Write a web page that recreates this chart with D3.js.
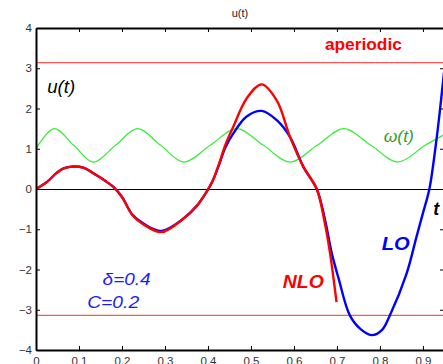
<!DOCTYPE html>
<html>
<head>
<meta charset="utf-8">
<script src="https://cdn.jsdelivr.net/npm/d3@7"></script>
<style>
  body { margin: 0; background: #fff; }
  text { font-family: "Liberation Sans", Arial, sans-serif; }
</style>
</head>
<body>
<div id="chart"></div>
<script>

// tick labels
var xTicks = [0, 0.1, 0.2, 0.3, 0.4, 0.5, 0.6, 0.7, 0.8, 0.9];
var xTickLabels = ["0", "0.1", "0.2", "0.3", "0.4", "0.5", "0.6", "0.7", "0.8", "0.9"];
var yTicks = [-4, -3, -2, -1, 0, 1, 2, 3, 4];

// aperiodic limit (+/- pi)
var aperiodicLevels = [3.1416, -3.1416];

// omega(t), green
var omegaT = [0, 0.042, 0.088, 0.133, 0.185, 0.236, 0.290, 0.344, 0.405, 0.467, 0.529, 0.591, 0.654, 0.716, 0.779, 0.842, 0.905, 0.949];
var omegaV = [1.0, 1.50, 1.085, 0.67, 1.085, 1.50, 1.085, 0.67, 1.085, 1.50, 1.085, 0.67, 1.085, 1.50, 1.085, 0.67, 1.085, 1.35];

// LO solution, blue
var loT = [0, 0.025, 0.048, 0.064, 0.087, 0.11, 0.141, 0.16, 0.18, 0.20, 0.225, 0.25, 0.292, 0.343, 0.374, 0.395, 0.41, 0.425, 0.44, 0.459, 0.49, 0.525, 0.56, 0.591, 0.622, 0.653, 0.672, 0.688, 0.703, 0.73, 0.755, 0.782, 0.805, 0.823, 0.862, 0.885, 0.90, 0.915, 0.93, 0.94, 0.949];
var loV = [0, 0.17, 0.40, 0.51, 0.56, 0.53, 0.34, 0.21, 0.05, -0.2, -0.65, -0.86, -1.04, -0.735, -0.42, -0.1, 0.18, 0.58, 1.02, 1.38, 1.80, 1.94, 1.71, 1.29, 0.55, 0, -0.75, -1.6, -2.19, -3.14, -3.48, -3.63, -3.50, -3.14, -2.10, -1.19, -0.6, 0, 1.1, 2.0, 2.9];

// NLO solution, red
var nloT = [0, 0.025, 0.048, 0.064, 0.087, 0.11, 0.141, 0.16, 0.18, 0.20, 0.225, 0.25, 0.292, 0.343, 0.374, 0.395, 0.41, 0.425, 0.44, 0.459, 0.49, 0.525, 0.56, 0.591, 0.622, 0.653, 0.672, 0.684, 0.699];
var nloV = [0, 0.17, 0.40, 0.51, 0.56, 0.53, 0.34, 0.21, 0.05, -0.2, -0.66, -0.88, -1.07, -0.735, -0.42, -0.1, 0.18, 0.6, 1.08, 1.55, 2.25, 2.60, 2.20, 1.29, 0.55, 0, -0.86, -1.6, -2.81];

function zip(ts, vs) {
    return ts.map(function(t, i) { return { t: t, v: vs[i] }; });
}

var margin = { top: 28, right: 0, bottom: 14, left: 36 };
var width = 408,
    height = 322;

var svg = d3.select("#chart").append("svg")
    .attr("width", 443)
    .attr("height", 364)
    .style("display", "block");

var g = svg.append("g")
    .attr("transform", "translate(" + margin.left + "," + margin.top + ")");

// Scales
var x = d3.scaleLinear().domain([0, 0.949]).range([0, width]);
var y = d3.scaleLinear().domain([-4, 4]).range([height, 0]);

// Plot area clip
g.append("clipPath").attr("id", "clip")
    .append("rect").attr("width", width).attr("height", height);

var plot = g.append("g").attr("clip-path", "url(#clip)");

// +/- pi lines
plot.selectAll(".aperiodic")
    .data(aperiodicLevels)
    .enter().append("line")
    .attr("class", "aperiodic")
    .attr("x1", 0).attr("x2", width)
    .attr("y1", function(d) { return y(d); })
    .attr("y2", function(d) { return y(d); })
    .attr("stroke", "#ff5555")
    .attr("stroke-width", 1.3);

// zero line
plot.append("line")
    .attr("x1", 0).attr("x2", width)
    .attr("y1", y(0)).attr("y2", y(0))
    .attr("stroke", "#000")
    .attr("stroke-width", 1)
    .attr("shape-rendering", "crispEdges");

var line = d3.line()
    .curve(d3.curveCatmullRom.alpha(0.5))
    .x(function(d) { return x(d.t); })
    .y(function(d) { return y(d.v); });

plot.append("path")
    .datum(zip(omegaT, omegaV))
    .attr("d", line)
    .attr("fill", "none")
    .attr("stroke", "#33ee33")
    .attr("stroke-width", 1.2);

plot.append("path")
    .datum(zip(loT, loV))
    .attr("d", line)
    .attr("fill", "none")
    .attr("stroke", "#0000ff")
    .attr("stroke-width", 2.4);

plot.append("path")
    .datum(zip(nloT, nloV))
    .attr("d", line)
    .attr("fill", "none")
    .attr("stroke", "#ff0000")
    .attr("stroke-width", 2.4);

// Axes, matlab style: ticks inside on all four sides
var xAxis = d3.axisBottom(x)
    .tickValues(xTicks)
    .tickFormat(function(d, i) { return xTickLabels[i]; })
    .tickSizeInner(-4).tickSizeOuter(0).tickPadding(7);
var xAxisTop = d3.axisTop(x)
    .tickValues(xTicks).tickFormat("")
    .tickSizeInner(-4).tickSizeOuter(0);
var yAxis = d3.axisLeft(y)
    .tickValues(yTicks)
    .tickFormat(d3.format("d"))
    .tickSizeInner(-4).tickSizeOuter(0).tickPadding(4);
var yAxisRight = d3.axisRight(y)
    .tickValues(yTicks).tickFormat("")
    .tickSizeInner(-4).tickSizeOuter(0);

g.append("g").attr("class", "axis")
    .attr("transform", "translate(0," + height + ")")
    .call(xAxis);
g.append("g").attr("class", "axis")
    .call(xAxisTop);
g.append("g").attr("class", "axis")
    .call(yAxis);
g.append("g").attr("class", "axis")
    .attr("transform", "translate(" + width + ",0)")
    .call(yAxisRight);

g.selectAll(".axis .domain").attr("stroke", "#000").attr("stroke-width", 2);
g.selectAll(".axis .tick line").attr("stroke", "#000").attr("stroke-width", 1);
g.selectAll(".axis text")
    .attr("fill", "#333")
    .style("font-size", "11.5px")
    .style("font-family", "'Liberation Sans', Arial, sans-serif");

// Title
svg.append("text")
    .attr("x", margin.left + width / 2)
    .attr("y", 17)
    .attr("text-anchor", "middle")
    .style("font-size", "11px")
    .attr("fill", "#222")
    .text("u(t)");

// Annotations
function label(t, v, str, size, color, weight, style, len) {
    var txt = g.append("text")
        .attr("x", x(t))
        .attr("y", y(v))
        .attr("fill", color)
        .style("font-size", size + "px")
        .style("font-weight", weight)
        .style("font-style", style)
        .text(str);
    if (len) txt.attr("textLength", len).attr("lengthAdjust", "spacingAndGlyphs");
    return txt;
}

label(0.672, 3.45, "aperiodic", 17, "#ff0000", "bold", "normal", 77);
label(0.026, 2.385, "u(t)", 18, "#000", "normal", "italic", 28);
label(0.809, 1.17, "\u03c9(t)", 16, "#2e9e2e", "normal", "italic", 30);
label(0.924, -0.65, "t", 18, "#000", "bold", "italic");
label(0.804, -1.52, "LO", 19, "#0000ff", "bold", "italic", 28);
label(0.574, -2.45, "NLO", 18, "#ff0000", "bold", "italic", 41);
label(0.155, -2.39, "\u03b4=0.4", 16, "#1a1aff", "normal", "italic", 48);
label(0.119, -2.96, "C=0.2", 16, "#1a1aff", "normal", "italic", 52);

</script>
</body>
</html>
